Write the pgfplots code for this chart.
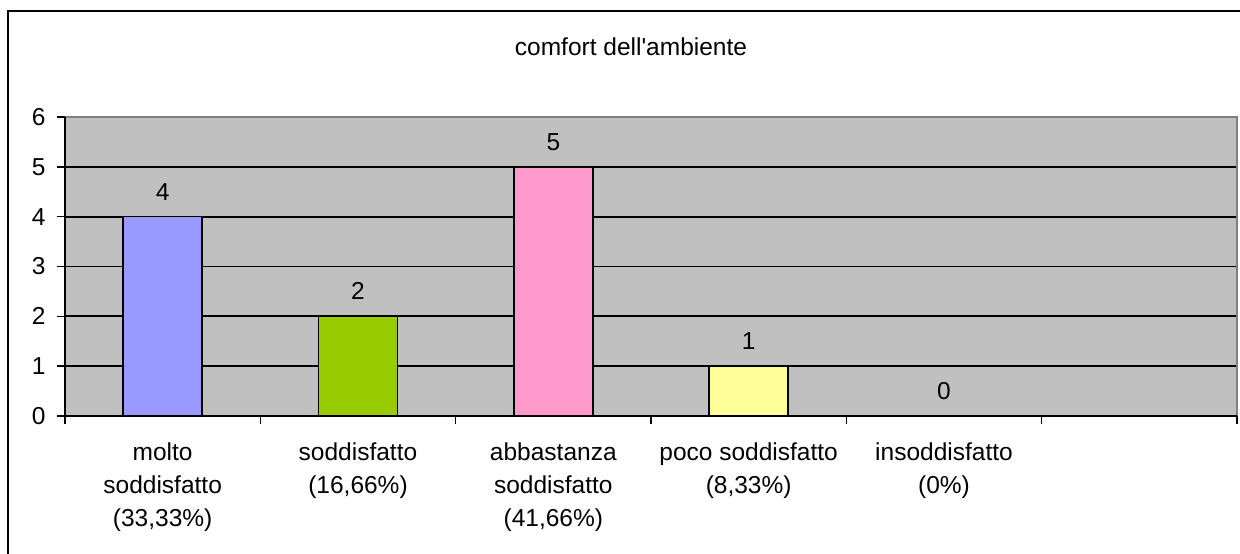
\documentclass[border=0pt]{standalone}
\usepackage{fontspec}
\setmainfont{Liberation Sans}
\usepackage{pgfplots}
\pgfplotsset{compat=1.18}
\definecolor{plotbg}{HTML}{C0C0C0}
\definecolor{barblue}{HTML}{9999FF}
\definecolor{bargreen}{HTML}{99CC00}
\definecolor{barpink}{HTML}{FF99CC}
\definecolor{baryellow}{HTML}{FFFF99}
\definecolor{framegray}{HTML}{808080}
\begin{document}
\begin{tikzpicture}[font=\fontsize{24.5}{33}\selectfont]
\useasboundingbox (0pt,0pt) rectangle (1240pt,554pt);
\draw[line width=2pt] (8pt,0pt) -- (8pt,543pt) -- (1241pt,543pt);
\node at (631pt,507pt) {comfort dell\textquotesingle ambiente};
\begin{axis}[
  at={(65pt,138pt)}, anchor=south west, scale only axis,
  width=1172pt, height=299pt,
  xmin=0, xmax=6, ymin=0, ymax=6,
  ytick={0,1,...,6}, xtick={0,1,...,6},
  x tick label as interval,
  xticklabels={{molto\\soddisfatto\\(33,33\%)},{soddisfatto\\(16,66\%)},{abbastanza\\soddisfatto\\(41,66\%)},{poco soddisfatto\\(8,33\%)},{insoddisfatto\\(0\%)},{}},
  xticklabel style={align=center, anchor=north, yshift=-15pt, font=\fontsize{24.5}{33}\selectfont},
  yticklabel style={xshift=-8pt, font=\fontsize{24.5}{33}\selectfont},
  /pgf/number format/assume math mode=true,
  tick align=outside, xtick pos=lower, ytick pos=left,
  major tick length=8pt,
  tick style={black, line width=1.5pt},
  ymajorgrids=true, xmajorgrids=false,
  major grid style={black, line width=1.8pt},
  axis line style={draw=none},
  axis background/.style={fill=plotbg},
  ybar, bar width=79pt,
  nodes near coords,
  every node near coord/.append style={anchor=center, yshift=25pt, font=\fontsize{24.5}{33}\selectfont},
  clip=false,
]
\addplot[bar shift=0pt, fill=barblue, draw=black, line width=1.5pt] coordinates {(0.5,4)};
\addplot[bar shift=0pt, fill=bargreen, draw=black, line width=1.5pt] coordinates {(1.5,2)};
\addplot[bar shift=0pt, fill=barpink, draw=black, line width=1.5pt] coordinates {(2.5,5)};
\addplot[bar shift=0pt, fill=baryellow, draw=black, line width=1.5pt] coordinates {(3.5,1)};
\addplot[bar shift=0pt, fill=none, draw=none] coordinates {(4.5,0)};
\draw[framegray, line width=2pt] (rel axis cs:0,1) -- (rel axis cs:1,1) -- (rel axis cs:1,0);
\draw[black, line width=2pt] (rel axis cs:0,1) -- (rel axis cs:0,0) -- (rel axis cs:1,0);
\end{axis}
\end{tikzpicture}
\end{document}
